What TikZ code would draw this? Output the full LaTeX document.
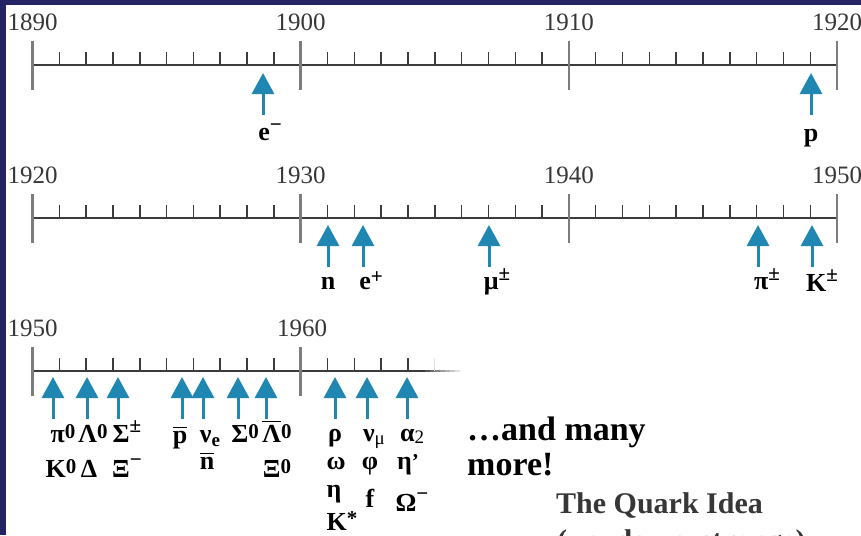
\documentclass[tikz,border=0pt]{standalone}
\usepackage{amsmath}
\usepackage{fontspec}
\setmainfont{Liberation Serif}
\usetikzlibrary{arrows.meta}
\definecolor{navy}{RGB}{36,36,100}
\definecolor{arrowblue}{RGB}{32,135,178}
\definecolor{axisgray}{RGB}{60,60,60}
\definecolor{majorgray}{RGB}{125,125,125}
\definecolor{yeargray}{RGB}{55,55,55}
\definecolor{quarkgray}{RGB}{55,55,55}
\newcommand{\upx}[2][4pt]{\raisebox{#1}{\fontsize{21}{22}\selectfont #2}}
\newcommand{\dnx}[2][-4pt]{\raisebox{#1}{\fontsize{19}{20}\selectfont #2}}
\newcommand{\ovl}[1]{$\overline{\text{#1}}$}
\begin{document}
\begin{tikzpicture}[x=1pt,y=-1pt,
  yearlabel/.style={font=\fontsize{25}{30}\selectfont, text=yeargray, inner sep=0pt},
  plabel/.style={font=\fontsize{26}{28}\selectfont\bfseries, anchor=base, inner sep=0pt},
  uparrow/.style={draw=arrowblue, line width=3pt, -{Triangle[length=21pt,width=22pt]}},
  axisline/.style={draw=axisgray, line width=1.2pt},
  majortick/.style={draw=majorgray, line width=2.6pt},
  minortick/.style={draw=axisgray, line width=1.5pt},
  bigtext/.style={font=\fontsize{34}{36}\selectfont\bfseries, anchor=base west, inner sep=0pt},
  quarktext/.style={font=\fontsize{30}{34}\selectfont\bfseries, text=quarkgray, anchor=base west, inner sep=0pt}]

\useasboundingbox (0,0) rectangle (861,535);
\fill[white] (0,0) rectangle (861,535);
\fill[navy] (0,0) rectangle (861,5);
\fill[navy] (0,0) rectangle (6,535);

% rows 1 and 2
\foreach \ay/\ly/\yr in {65/22/1890, 218/175/1920}{
  \draw[axisline] (32.5,\ay) -- (837.1,\ay);
  \foreach \k in {0,1,2}{
    \foreach \j in {1,...,9}{
      \draw[minortick] (32.5+268.2*\k+26.82*\j,\ay-13) -- (32.5+268.2*\k+26.82*\j,\ay);
    }
  }
  \foreach \k in {0,...,3}{
    \draw[majortick] (32.5+268.2*\k,\ay-24) -- (32.5+268.2*\k,\ay+25);
    \pgfmathtruncatemacro{\yy}{\yr+10*\k}
    \node[yearlabel] (year\yy) at (32.5+268.2*\k,\ly) {\yy};
  }
}

% row 3
\draw[axisline] (32.5,371) -- (420,371);
\foreach \i in {0,...,7}{
  \pgfmathsetmacro{\fade}{100-12*\i}
  \draw[draw=axisgray!\fade!white, line width=1.2pt] (420+5*\i,371) -- (425+5*\i,371);
}
\foreach \j in {1,...,9}{
  \draw[minortick] (32.5+26.82*\j,358) -- (32.5+26.82*\j,371);
}
\foreach \j in {1,...,4}{
  \draw[minortick] (300.7+26.82*\j,358) -- (300.7+26.82*\j,371);
}
\draw[draw=axisgray!15!white, line width=1.3pt] (434.8,358) -- (434.8,371);
\draw[majortick] (32.5,347) -- (32.5,396);
\draw[majortick] (300.7,347) -- (300.7,396);
\node[yearlabel] (year1950) at (32.5,328) {1950};
\node[yearlabel] (year1960) at (302,328) {1960};

% arrows
\foreach \n/\x/\ty in {e/263/73, p/811/73,
  n/328/225, ep/363/225, mu/489/225, pi/758/225, K/812/225,
  r1/53/377, r2/87/377, r3/118/377, r4/182/377, r5/203/377, r6/238/377, r7/266/377,
  r8/335/377, r9/367/377, r10/407/377}{
  \coordinate (\n tip) at (\x,\ty);
  \coordinate (\n tail) at (\x,\ty+42);
  \draw[uparrow] (\n tail) -- (\n tip);
}

% labels row 1
\node[plabel] (le) at (270,140) {e\upx[9pt]{−}};
\node[plabel] (lp) at (811,141) {p};
% labels row 2
\node[plabel] (ln) at (328,289) {n};
\node[plabel] (lep) at (371,289) {e\upx[6pt]{+}};
\node[plabel] (lmu) at (497,289) {μ\upx[9pt]{±}};
\node[plabel] (lpi) at (767,289) {π\upx[9pt]{±}};
\node[plabel] (lK) at (822,291) {K\upx[10pt]{±}};
% labels row 3
\node[plabel] (lpi0) at (63,442) {π\upx{0}};
\node[plabel] (lLa0) at (93,442) {Λ\upx{0}};
\node[plabel] (lSipm) at (127,442) {Σ\upx[10pt]{±}};
\node[plabel] (lpbar) at (180,443) {\ovl{p}};
\node[plabel] (lnue) at (210,442) {ν\dnx{e}};
\node[plabel] (lSi0) at (245,442) {Σ\upx{0}};
\node[plabel] (lLab) at (277,442) {\ovl{Λ}\upx{0}};
\node[plabel] (lK0) at (61,477) {K\upx{0}};
\node[plabel] (lDe) at (89,477) {Δ};
\node[plabel] (lXim) at (127,477) {Ξ\upx[11pt]{−}};
\node[plabel] (lnbar) at (207,469) {\ovl{n}};
\node[plabel] (lXi0) at (277,477) {Ξ\upx{0}};
\node[plabel] (lrho) at (335,441) {ρ};
\node[plabel] (lnumu) at (374,441) {ν\dnx[-3pt]{\mdseries μ}};
\node[plabel] (lal) at (412,441) {α\dnx[-2pt]{\mdseries 2}};
\node[plabel] (lom) at (336,469) {ω};
\node[plabel] (lphi) at (370,469) {φ};
\node[plabel] (letap) at (408,469) {η\upx[1pt]{'}};
\node[plabel] (leta) at (334,497) {η};
\node[plabel] (lf) at (370,507) {f};
\node[plabel] (lOm) at (412,511) {Ω\upx[11pt]{−}};
\node[plabel] (lKs) at (342,530) {K\upx[5pt]{*}};

% texts
\node[bigtext] (more1) at (467,440) {…and many};
\node[bigtext] (more2) at (467,475) {more!};
\node[quarktext] (quark1) at (556,513) {The Quark Idea};
\node[quarktext] (quark2) at (557,550) {(up, down, strange)};
\end{tikzpicture}
\end{document}
